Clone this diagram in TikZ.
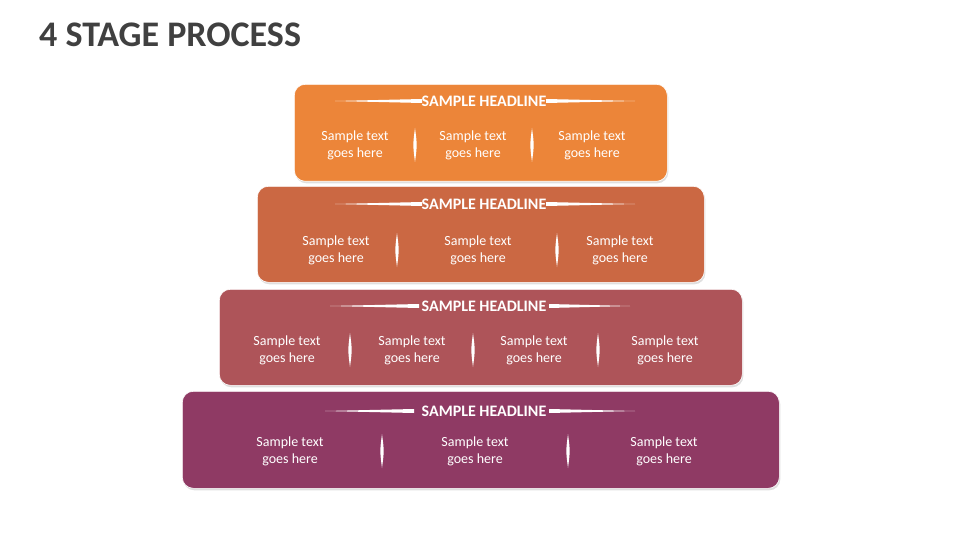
\documentclass[tikz,border=0pt]{standalone}
\usepackage{fontspec}
\setmainfont{Carlito}
\usetikzlibrary{positioning,shadows}
\definecolor{cA}{HTML}{EC8539}
\definecolor{cB}{HTML}{CB6843}
\definecolor{cC}{HTML}{AE5459}
\definecolor{cD}{HTML}{8F3A64}
\definecolor{ttl}{HTML}{404040}
\tikzset{
  stage/.style={draw=white, line width=0.6pt, rounded corners=11pt, drop shadow={opacity=0.25, shadow xshift=1pt, shadow yshift=-2pt}},
  head/.style={text=white, font=\fontsize{16}{17}\selectfont\bfseries, inner sep=1pt},
  body/.style={text=white, align=center, font=\fontsize{14}{17}\selectfont}
}
% divider spindle at (x,y)
\newcommand{\spindle}[2]{\fill[white] (#1,#2-17) .. controls (#1+2.2,#2) .. (#1,#2+17) .. controls (#1-2.2,#2) .. (#1,#2-17);}
% tapered rule from #1 to #2 at height #3
\newcommand{\taper}[3]{\fill[white] (#1,#3) -- (#2,#3-2) -- (#2,#3+2) -- cycle;}
\begin{document}
\begin{tikzpicture}[x=1pt, y=-1pt]
\useasboundingbox (0,0) rectangle (960,540);
\node[anchor=west, text=ttl, font=\fontsize{36}{38}\selectfont\bfseries, inner sep=0pt] (title) at (39,35) {4 STAGE PROCESS};

% stage boxes
\node[stage, fill=cD, minimum width=597pt, minimum height=97pt, anchor=north west] (S4) at (182,391) {};
\node[stage, fill=cC, minimum width=523pt, minimum height=96pt, anchor=north west] (S3) at (219,289) {};
\node[stage, fill=cB, minimum width=447pt, minimum height=96pt, anchor=north west] (S2) at (257,186) {};
\node[stage, fill=cA, minimum width=373pt, minimum height=97pt, anchor=north west] (S1) at (294,84) {};

% headlines
\node[head] (H1) at (484,101) {SAMPLE HEADLINE};
\node[head] (H2) at (484,204) {SAMPLE HEADLINE};
\node[head] (H3) at (484,306) {SAMPLE HEADLINE};
\node[head] (H4) at (484,411) {SAMPLE HEADLINE};
\taper{335}{422}{101} \taper{635}{546}{101}
\taper{335}{422}{204} \taper{635}{546}{204}
\taper{330}{419}{306} \taper{630}{549}{306}
\taper{325}{414}{411} \taper{635}{549}{411}

% body texts
\foreach \x [count=\i] in {355,473,592}
  \node[body] (T1\i) at (\x,145) {Sample text\\goes here};
\foreach \x [count=\i] in {336,478,620}
  \node[body] (T2\i) at (\x,250) {Sample text\\goes here};
\foreach \x [count=\i] in {287,412,534,665}
  \node[body] (T3\i) at (\x,350) {Sample text\\goes here};
\foreach \x [count=\i] in {290,475,664}
  \node[body] (T4\i) at (\x,451) {Sample text\\goes here};

% dividers
\foreach \x in {415,532} {\spindle{\x}{145}}
\foreach \x in {397,557} {\spindle{\x}{250}}
\foreach \x in {350,473,598} {\spindle{\x}{350}}
\foreach \x in {382,568} {\spindle{\x}{451}}
\end{tikzpicture}
\end{document}
